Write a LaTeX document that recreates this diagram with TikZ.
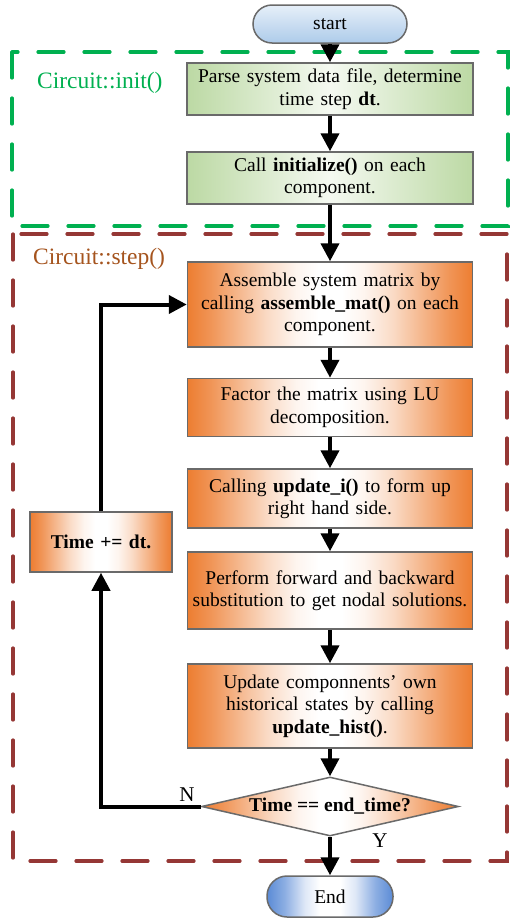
\documentclass[tikz,border=0pt]{standalone}
\usepackage{fontspec}
\setmainfont{Liberation Serif}
\usetikzlibrary{arrows.meta,shapes.geometric}
\definecolor{orng}{HTML}{ED7D31}
\definecolor{grn}{HTML}{BCD9A4}
\definecolor{dgrn}{HTML}{00B050}
\definecolor{dred}{HTML}{953735}
\definecolor{lblred}{HTML}{A5541E}
\definecolor{blu}{HTML}{5B8BD6}
\definecolor{lblu}{HTML}{ADCBEA}
\definecolor{bord}{HTML}{6A6A6A}
\pgfdeclarehorizontalshading{orngsh}{100bp}{color(0bp)=(orng); color(25bp)=(orng); color(29bp)=(orng!82); color(34bp)=(orng!55); color(39bp)=(orng!28); color(44bp)=(orng!8); color(48bp)=(white); color(52bp)=(white); color(56bp)=(orng!8); color(61bp)=(orng!28); color(66bp)=(orng!55); color(71bp)=(orng!82); color(75bp)=(orng); color(100bp)=(orng)}
\pgfdeclarehorizontalshading{blush}{100bp}{color(0bp)=(blu); color(25bp)=(blu); color(32bp)=(blu!70); color(40bp)=(blu!20); color(46bp)=(white); color(54bp)=(white); color(60bp)=(blu!20); color(68bp)=(blu!70); color(75bp)=(blu); color(100bp)=(blu)}
\begin{document}
\begin{tikzpicture}[x=1pt,y=-1pt,
  txt/.style={font=\fontsize{19.5}{22.5}\selectfont},
  gbox/.style={txt,draw=bord,line width=1.5pt,left color=grn,right color=grn,middle color=grn!15,
    minimum width=286pt,text width=276pt,align=center,inner sep=0pt},
  obox/.style={txt,draw=bord,line width=1.5pt,shading=orngsh,
    minimum width=285pt,text width=276pt,align=center,inner sep=0pt},
  startbox/.style={txt,draw=bord,line width=1.5pt,rounded corners=19pt,top color=lblu!30,bottom color=lblu,
    minimum width=154pt,minimum height=38pt,inner sep=0pt},
  endbox/.style={txt,draw=bord,line width=1.5pt,rounded corners=20pt,shading=blush,
    minimum width=126pt,minimum height=41pt,inner sep=0pt},
  decide/.style={diamond,draw=bord,line width=1.5pt,shading=orngsh,
    minimum width=257pt,minimum height=59pt,inner sep=0pt},
  arr/.style={line width=4pt,-{Triangle[width=18pt,length=18pt]}},
  grpbox/.style={line width=3.2pt,dash pattern=on 26pt off 20pt,line cap=round},
  grplbl/.style={font=\fontsize{23.5}{26}\selectfont,anchor=west,inner sep=0pt},
  yn/.style={font=\fontsize{21}{24}\selectfont,inner sep=0pt}
]
\useasboundingbox (0,0) rectangle (511,919);

% group frames
\draw[grpbox,draw=dgrn] (12,52) rectangle (508,226);
\draw[grpbox,draw=dred] (13,234) rectangle (507,861);
\node[grplbl,text=dgrn] (lblinit) at (37,83) {Circuit::init()};
\node[grplbl,text=lblred] (lblstep) at (33,259) {Circuit::step()};

% nodes
\node[startbox] (start) at (330,24) {start};
\node[gbox,minimum height=52pt] (b1) at (330,89) {Parse system data file, determine\\time step \textbf{dt}.};
\node[gbox,minimum height=52pt] (b2) at (330,178) {Call \textbf{initialize()} on each\\component.};
\node[obox,minimum height=85pt] (b3) at (330,304.5) {Assemble system matrix by\\calling \textbf{assemble\_mat()} on each\\component.};
\node[obox,minimum height=58pt] (b4) at (330,407.5) {Factor the matrix using LU\\decomposition.};
\node[obox,minimum height=59pt] (b5) at (330,498.5) {Calling \textbf{update\_i()} to form up\\right hand side.};
\node[obox,minimum height=77pt] (b6) at (330,590.5) {Perform forward and backward\\substitution to get nodal solutions.};
\node[obox,minimum height=84pt] (b7) at (330,706) {Update componnents' own\\historical states by calling\\\textbf{update\_hist()}.};
\node[decide,label={[txt]center:\textbf{Time == end\_time?}}] (dia) at (330,806.5) {};
\node[endbox] (end) at (330,896.5) {End};
\node[obox,minimum width=142pt,text width=136pt,minimum height=60pt] (tb) at (101,542) {\textbf{Time += dt.}};

\node[yn] (nlbl) at (187,795) {N};
\node[yn] (ylbl) at (380,841) {Y};

% connectors
\draw[arr] (start) -- (b1);
\draw[arr] (b1) -- (b2);
\draw[arr] (b2) -- (b3);
\draw[arr] (b3) -- (b4);
\draw[arr] (b4) -- (b5);
\draw[arr] (b5) -- (b6);
\draw[arr] (b6) -- (b7);
\draw[arr] (b7) -- (dia.north);
\draw[arr] (dia.south) -- (end.north);
\draw[arr] (dia.west) -| (tb.south);
\draw[arr] (tb.north) |- (b3.west);
\end{tikzpicture}
\end{document}
